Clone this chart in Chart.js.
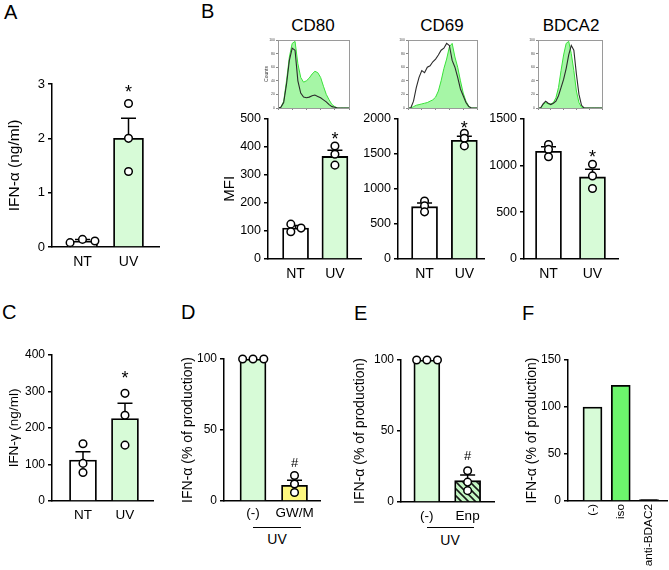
<!DOCTYPE html>
<html>
<head>
<meta charset="utf-8">
<script src="https://cdn.jsdelivr.net/npm/chart.js@4.4.1/dist/chart.umd.min.js"></script>
<style>
body { margin: 0; background: #fff; width: 669px; height: 570px; position: relative; overflow: hidden;
       font-family: "Liberation Sans", Arial, sans-serif; color: #000; }
canvas { position: absolute; }
.t { position: absolute; white-space: nowrap; line-height: 1; }
.c { transform: translate(-50%, -50%); }
.ln { position: absolute; border-top: 1px solid #000; height: 0; }
</style>
</head>
<body>
<div class="t" style="left:4px;top:2px;font-size:20px">A</div>
<div class="t" style="left:201px;top:1px;font-size:20px">B</div>
<div class="t" style="left:2px;top:302px;font-size:20px">C</div>
<div class="t" style="left:181px;top:302px;font-size:20px">D</div>
<div class="t" style="left:354px;top:303px;font-size:20px">E</div>
<div class="t" style="left:522px;top:303px;font-size:20px">F</div>
<div class="t c" style="left:313px;top:25px;font-size:17px">CD80</div>
<div class="t c" style="left:442px;top:25px;font-size:17px">CD69</div>
<div class="t c" style="left:571px;top:25px;font-size:17px">BDCA2</div>
<div class="ln" style="left:253px;top:527px;width:48px"></div>
<div class="t c" style="left:277px;top:539px;font-size:14px">UV</div>
<div class="ln" style="left:427px;top:527px;width:47px"></div>
<div class="t c" style="left:450px;top:540px;font-size:14px">UV</div>
<script>
// ---- data ----
var ntuv = ["NT", "UV"];
var gwCats = ["(-)", "GW/M"];
var enpCats = ["(-)", "Enp"];
var blockCats = ["(-)", "iso", "anti-BDAC2"];

// A: IFN-a (ng/ml)
var ifnaMean = [0.11, 2.0];
var ifnaErr = [0.14, 2.37];
var ifnaDots = [[0.08, 0.14, 0.11], [2.64, 2.0, 1.39]];

// B: MFI
var cd80Mean = [110, 365];
var cd80Err = [119, 387];
var cd80Dots = [[124, 97, 110], [402, 373, 334]];
var cd69Mean = [745, 1690];
var cd69Err = [798, 1746];
var cd69Dots = [[826, 756, 671], [1789, 1718, 1610]];
var bdca2Mean = [1150, 876];
var bdca2Err = [1199, 957];
var bdca2Dots = [[1223, 1170, 1092], [1011, 887, 752]];

// B: histograms (x positions across the plot, % of max counts)
var histX = [0, 4, 8, 12, 16, 20, 24, 28, 32, 36, 40, 44, 48, 52, 56, 60, 64, 68, 72, 76, 80, 84, 88, 92, 96, 100];
var cd80HistUv = [0, 1, 10, 40, 75, 95, 98, 65, 45, 38, 40, 44, 50, 54, 52, 45, 32, 20, 12, 5, 2, 0, 0, 0, 0, 0];
var cd80HistNt = [0, 1, 8, 35, 70, 88, 85, 40, 22, 16, 15, 16, 18, 19, 17, 15, 12, 9, 5, 2, 1, 0, 0, 0, 0, 0];
var cd69HistUv = [0, 0, 2, 4, 5, 6, 7, 8, 10, 12, 16, 25, 40, 58, 72, 90, 95, 75, 60, 40, 22, 10, 3, 0, 0, 0];
var cd69HistNt = [0, 0, 10, 30, 45, 55, 52, 60, 62, 68, 72, 78, 85, 88, 95, 92, 70, 60, 45, 28, 18, 8, 2, 0, 0, 0];
var bdca2HistUv = [0, 0, 5, 8, 6, 6, 8, 15, 30, 55, 78, 95, 98, 80, 55, 25, 8, 1, 0, 0, 0, 0, 0, 0, 0, 0];
var bdca2HistNt = [0, 0, 6, 10, 7, 5, 7, 10, 18, 30, 42, 58, 78, 92, 85, 50, 20, 4, 0, 0, 0, 0, 0, 0, 0, 0];

// C: IFN-g (ng/ml)
var ifngMean = [112, 226];
var ifngErr = [135, 268];
var ifngDots = [[157, 103, 78], [295, 235, 153]];

// D, E, F: IFN-a (% of production)
var gwMean = [100, 11];
var gwErr = [null, 14.6];
var gwDots = [[100, 100, 100], [18, 12, 6]];
var enpMean = [100, 15];
var enpErr = [null, 19];
var enpDots = [[100, 100, 100], [22, 14, 8]];
var blockMean = [100, 123, 1.5];

var FONT = '"Liberation Sans", Arial, sans-serif';
var GREEN = "#d7fbd7";

function addCanvas(pos) {
  var c = document.createElement("canvas");
  c.width = pos.w; c.height = pos.h;
  c.style.left = pos.x + "px"; c.style.top = pos.y + "px";
  c.style.width = pos.w + "px"; c.style.height = pos.h + "px";
  document.body.appendChild(c);
  return c;
}

function hatch() {
  var p = document.createElement("canvas");
  p.width = 7; p.height = 7;
  var g = p.getContext("2d");
  g.fillStyle = "#c4f7c4";
  g.fillRect(0, 0, 7, 7);
  g.strokeStyle = "#1a1a1a";
  g.lineWidth = 1.6;
  g.beginPath();
  g.moveTo(-1, -1); g.lineTo(8, 8);
  g.moveTo(-1, 6); g.lineTo(1, 8);
  g.moveTo(6, -1); g.lineTo(8, 1);
  g.stroke();
  return g.createPattern(p, "repeat");
}

function marksPlugin(p) {
  return {
    id: "marks",
    afterDatasetDraw: function (chart, args) {
      if (args.meta.type !== "bar" || !p.err) return;
      var ctx = chart.ctx, sx = chart.scales.x, sy = chart.scales.y;
      ctx.save();
      ctx.strokeStyle = "#000";
      ctx.lineWidth = 1.5;
      p.err.forEach(function (top, i) {
        if (top == null) return;
        var px = sx.getPixelForValue(i), py = sy.getPixelForValue(top);
        ctx.beginPath();
        ctx.moveTo(px, sy.getPixelForValue(p.mean[i]));
        ctx.lineTo(px, py);
        ctx.moveTo(px - 7.5, py);
        ctx.lineTo(px + 7.5, py);
        ctx.stroke();
      });
      ctx.restore();
    },
    afterDraw: function (chart) {
      if (!p.marks) return;
      var ctx = chart.ctx, sx = chart.scales.x, sy = chart.scales.y;
      ctx.save();
      ctx.fillStyle = "#000";
      ctx.textAlign = "center";
      ctx.textBaseline = "alphabetic";
      p.marks.forEach(function (m, i) {
        if (!m) return;
        var fs = m === "*" ? 18 : 13;
        var lift = m === "*" ? 0.6 : 0.36;
        ctx.font = fs + "px " + FONT;
        ctx.fillText(m, sx.getPixelForValue(i), sy.getPixelForValue(p.markAt[i]) + lift * fs);
      });
      ctx.restore();
    }
  };
}

function barPanel(p) {
  var pos = p.pos, area = p.area;
  var c = addCanvas(pos);
  var datasets = [{
    type: "bar",
    data: p.mean.map(function (v, i) { return { x: i, y: v }; }),
    backgroundColor: p.colors,
    borderColor: "#000",
    borderWidth: 1.8,
    barThickness: p.barW,
    order: 3
  }];
  if (p.dots) {
    var pts = [];
    p.dots.forEach(function (grp, i) {
      grp.forEach(function (v, k) {
        pts.push({ x: i + (p.jitter ? p.jitter[i][k] : 0), y: v });
      });
    });
    datasets.push({
      type: "scatter",
      data: pts,
      pointRadius: 3.8,
      pointBackgroundColor: "#fff",
      pointBorderColor: "#000",
      pointBorderWidth: 1.5,
      clip: false,
      order: 1
    });
  }
  var tickFont = { family: FONT, size: p.tickSize || 12 };
  var labFont = { family: FONT, size: p.labSize || 14 };
  var titleSize = p.titleSize || 14;
  new Chart(c, {
    type: "bar",
    data: { datasets: datasets },
    options: {
      responsive: false,
      animation: false,
      devicePixelRatio: 1,
      layout: { padding: { left: 0, top: area.t - pos.y, right: pos.x + pos.w - area.r, bottom: 0 } },
      plugins: { legend: { display: false }, tooltip: { enabled: false } },
      scales: {
        x: {
          type: "linear",
          min: p.xmin, max: p.xmax,
          offset: false,
          afterBuildTicks: function (s) { s.ticks = p.cats.map(function (c, i) { return { value: i }; }); },
          afterFit: function (s) { s.height = pos.y + pos.h - area.b; },
          ticks: {
            callback: function (v) { return p.cats[v]; },
            font: labFont, color: "#000", padding: p.labPad || 6,
            autoSkip: false, maxRotation: p.rot || 0, minRotation: p.rot || 0
          },
          grid: { display: false, drawTicks: false, offset: false },
          border: { display: true, color: "#000", width: 1.5 }
        },
        y: {
          min: 0, max: p.ymax,
          afterFit: function (s) { s.width = area.l - pos.x; },
          ticks: { stepSize: p.ystep, font: tickFont, color: "#000", padding: 3,
                   callback: function (v) { return String(v); } },
          grid: { display: true, drawOnChartArea: false, drawTicks: true, tickLength: 4, color: "#000", lineWidth: 1.5 },
          border: { display: true, color: "#000", width: 1.5 },
          title: {
            display: !!p.ytitle,
            text: p.ytitle,
            color: "#000",
            font: { family: FONT, size: titleSize },
            padding: { top: p.ytitle ? p.titleX - pos.x - 0.6 * titleSize : 0, bottom: 0 }
          }
        }
      }
    },
    plugins: [marksPlugin(p)]
  });
}

var boxPlugin = {
  id: "box",
  afterDraw: function (chart) {
    var a = chart.chartArea, ctx = chart.ctx;
    ctx.save();
    ctx.strokeStyle = "#9a9a9a";
    ctx.lineWidth = 1;
    ctx.strokeRect(a.left + 0.5, a.top + 0.5, a.right - a.left, a.bottom - a.top);
    ctx.restore();
  }
};

function histPanel(h) {
  var pos = h.pos, area = h.area;
  var c = addCanvas(pos);
  function pts(arr) { return histX.map(function (x, i) { return { x: x, y: arr[i] }; }); }
  new Chart(c, {
    type: "line",
    data: {
      datasets: [
        { data: pts(h.uv), borderColor: "#3ae23a", backgroundColor: "#a6f6a6", fill: "origin",
          borderWidth: 1, pointRadius: 0, tension: 0, order: 2 },
        { data: pts(h.nt), borderColor: "#2b2b2b", fill: false,
          borderWidth: 1.1, pointRadius: 0, tension: 0, order: 1 }
      ]
    },
    options: {
      responsive: false,
      animation: false,
      devicePixelRatio: 1,
      layout: { padding: { left: 0, top: area.t - pos.y, right: pos.x + pos.w - area.r, bottom: 0 } },
      plugins: { legend: { display: false }, tooltip: { enabled: false } },
      scales: {
        x: {
          type: "linear", min: 0, max: 100,
          afterFit: function (s) { s.height = pos.y + pos.h - area.b; },
          ticks: { display: false, stepSize: 20 },
          grid: { display: true, drawOnChartArea: false, tickLength: 2, color: "#555", lineWidth: 0.7 },
          border: { display: true, color: "#555", width: 0.8 }
        },
        y: {
          min: 0, max: 100,
          afterFit: function (s) { s.width = area.l - pos.x; },
          ticks: { stepSize: 20, font: { family: FONT, size: 3.5 }, color: "#444", padding: 1 },
          grid: { display: true, drawOnChartArea: false, tickLength: 2, color: "#555", lineWidth: 0.7 },
          border: { display: true, color: "#555", width: 0.8 },
          title: { display: !!h.counts, text: "Counts", color: "#333",
                   font: { family: FONT, size: 5 }, padding: { top: 2, bottom: 0 } }
        }
      }
    },
    plugins: [boxPlugin]
  });
}

// ---- panel A ----
barPanel({
  pos: { x: 0, y: 70, w: 170, h: 200 }, area: { l: 52, t: 84, r: 159, b: 247 },
  xmin: -0.663, xmax: 1.663, ymax: 3, ystep: 1, barW: 30,
  cats: ntuv, mean: ifnaMean, err: ifnaErr, dots: ifnaDots,
  jitter: [[-0.27, 0, 0.27], [0, 0, 0]],
  colors: ["#fff", GREEN], marks: ["", "*"], markAt: [null, 2.95],
  ytitle: "IFN-\u03b1 (ng/ml)", titleX: 15, titleSize: 15.5, tickSize: 13, labSize: 14, labPad: 7
});

// ---- panel B ----
histPanel({ pos: { x: 262, y: 36, w: 92, h: 76 }, area: { l: 278, t: 40, r: 349, b: 108 },
            uv: cd80HistUv, nt: cd80HistNt, counts: true });
histPanel({ pos: { x: 396, y: 36, w: 86, h: 76 }, area: { l: 408, t: 40, r: 477, b: 108 },
            uv: cd69HistUv, nt: cd69HistNt });
histPanel({ pos: { x: 526, y: 36, w: 81, h: 76 }, area: { l: 538, t: 40, r: 602, b: 108 },
            uv: bdca2HistUv, nt: bdca2HistNt });

barPanel({
  pos: { x: 215, y: 108, w: 152, h: 177 }, area: { l: 268, t: 117, r: 363, b: 259 },
  xmin: -0.7, xmax: 1.675, ymax: 500, ystep: 100, barW: 26,
  cats: ntuv, mean: cd80Mean, err: cd80Err, dots: cd80Dots,
  jitter: [[-0.12, -0.12, 0.14], [0, 0, 0]],
  colors: ["#fff", GREEN], marks: ["", "*"], markAt: [null, 445],
  ytitle: "MFI", titleX: 230, titleSize: 15, tickSize: 12.5, labSize: 14, labPad: 7
});
barPanel({
  pos: { x: 360, y: 108, w: 130, h: 177 }, area: { l: 398, t: 117, r: 486, b: 259 },
  xmin: -0.667, xmax: 1.506, ymax: 2000, ystep: 500, barW: 26,
  cats: ntuv, mean: cd69Mean, err: cd69Err, dots: cd69Dots,
  colors: ["#fff", GREEN], marks: ["", "*"], markAt: [null, 1935],
  tickSize: 12.5, labSize: 14, labPad: 7
});
barPanel({
  pos: { x: 488, y: 108, w: 139, h: 177 }, area: { l: 524, t: 117, r: 618, b: 259 },
  xmin: -0.557, xmax: 1.58, ymax: 1500, ystep: 500, barW: 26,
  cats: ntuv, mean: bdca2Mean, err: bdca2Err, dots: bdca2Dots,
  colors: ["#fff", GREEN], marks: ["", "*"], markAt: [null, 1135],
  tickSize: 12.5, labSize: 14, labPad: 7
});

// ---- panel C ----
barPanel({
  pos: { x: 0, y: 340, w: 170, h: 190 }, area: { l: 52, t: 355, r: 153, b: 501 },
  xmin: -0.738, xmax: 1.667, ymax: 400, ystep: 100, barW: 27,
  cats: ntuv, mean: ifngMean, err: ifngErr, dots: ifngDots,
  colors: ["#fff", GREEN], marks: ["", "*"], markAt: [null, 350],
  ytitle: "IFN-\u03b3 (ng/ml)", titleX: 14, titleSize: 13.5, tickSize: 12, labSize: 13.5, labPad: 6
});

// ---- panel D ----
barPanel({
  pos: { x: 170, y: 345, w: 160, h: 185 }, area: { l: 224, t: 359, r: 320, b: 501 },
  xmin: -0.699, xmax: 1.614, ymax: 100, ystep: 50, barW: 26,
  cats: gwCats, mean: gwMean, err: gwErr, dots: gwDots,
  jitter: [[-0.25, 0, 0.26], [0, 0, 0]],
  colors: [GREEN, "#fdf77f"], marks: ["", "#"], markAt: [null, 27.5],
  ytitle: "IFN-\u03b1 (% of production)", titleX: 188, titleSize: 14, tickSize: 12, labSize: 13.5, labPad: 4
});

// ---- panel E ----
barPanel({
  pos: { x: 340, y: 345, w: 160, h: 185 }, area: { l: 401, t: 360, r: 495, b: 502 },
  xmin: -0.634, xmax: 1.659, ymax: 100, ystep: 50, barW: 26,
  cats: enpCats, mean: enpMean, err: enpErr, dots: enpDots,
  jitter: [[-0.25, 0, 0.26], [0, 0, 0]],
  colors: [GREEN, hatch()], marks: ["", "#"], markAt: [null, 33],
  ytitle: "IFN-\u03b1 (% of production)", titleX: 360, titleSize: 14, tickSize: 12, labSize: 13.5, labPad: 6
});

// ---- panel F ----
barPanel({
  pos: { x: 500, y: 345, w: 169, h: 225 }, area: { l: 568, t: 360, r: 667, b: 501 },
  xmin: -0.867, xmax: 2.637, ymax: 150, ystep: 50, barW: 19,
  cats: blockCats, mean: blockMean,
  colors: [GREEN, "#6cf56c", "#000"],
  ytitle: "IFN-\u03b1 (% of production)", titleX: 532, titleSize: 14, tickSize: 12, labSize: 11.8, labPad: 3, rot: 90
});
</script>
</body>
</html>
